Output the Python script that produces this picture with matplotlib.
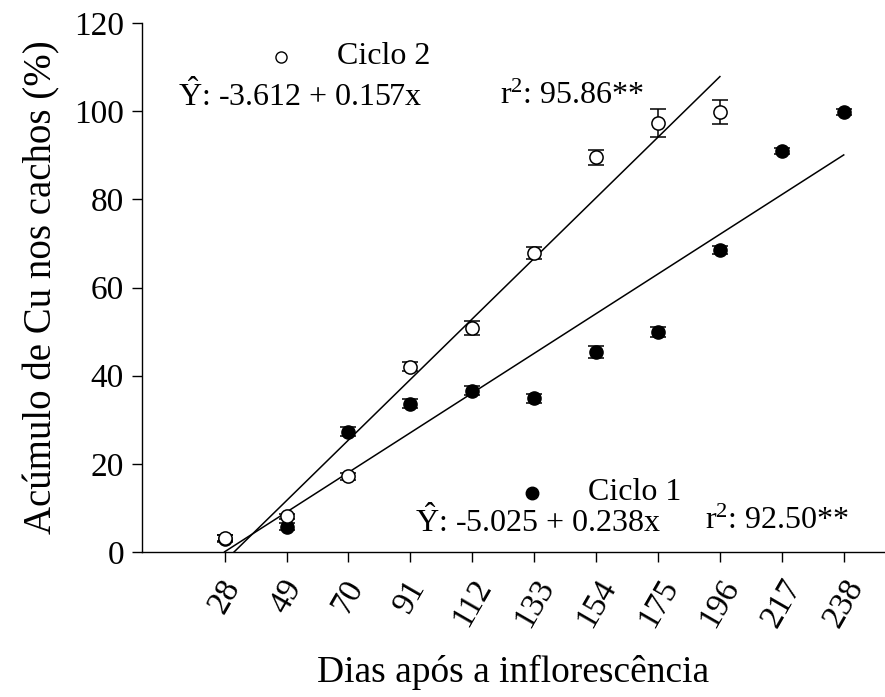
import numpy as np
import matplotlib.pyplot as plt

plt.rcParams['font.family'] = ['Liberation Serif', 'DejaVu Serif']
plt.rcParams['mathtext.fontset'] = 'custom'
plt.rcParams['mathtext.rm'] = 'Liberation Serif'
plt.rcParams['mathtext.it'] = 'Liberation Serif:italic'

# days after flowering
dias = [28, 49, 70, 91, 112, 133, 154, 175, 196, 217, 238]

# Ciclo 1 (filled circles)
ciclo1 = [3.0, 5.7, 27.3, 33.6, 36.6, 34.9, 45.4, 49.9, 68.5, 90.9, 99.9]
ciclo1_err = [0.8, 0.8, 1.0, 1.0, 1.0, 1.0, 1.3, 1.2, 1.0, 0.7, 0.7]

# Ciclo 2 (open circles), sampled up to 196 days
dias2 = [28, 49, 70, 91, 112, 133, 154, 175, 196]
ciclo2 = [3.2, 8.1, 17.2, 42.0, 50.9, 67.9, 89.5, 97.3, 99.8]
ciclo2_err = [0.6, 0.6, 0.8, 1.0, 1.6, 1.4, 1.8, 3.1, 2.8]

eq2 = r'$\hat{\mathrm{Y}}$: -3.612 + 0.157x'
r2_2 = r'r$^2$: 95.86**'
eq1 = r'$\hat{\mathrm{Y}}$: -5.025 + 0.238x'
r2_1 = r'r$^2$: 92.50**'

fig = plt.figure(figsize=(8.85, 6.97), dpi=100)
ax = fig.add_axes([0.1605, 0.208, 0.8395, 0.759])

# linear fits
for x, y in [(dias, ciclo1), (dias2, ciclo2)]:
    b, a = np.polyfit(x, y, 1)
    xs = np.array([x[0], x[-1]])
    ax.plot(xs, a + b * xs, color='black', lw=1.1, zorder=1)

ax.errorbar(dias, ciclo1, yerr=ciclo1_err, fmt='o', color='black', mfc='black',
            mec='black', ms=9.5, capsize=6, elinewidth=1.1, capthick=1.1, zorder=2)
ax.errorbar(dias2, ciclo2, yerr=ciclo2_err, fmt='o', color='black', mfc='white',
            mec='black', mew=1.1, ms=9.5, capsize=6, elinewidth=1.1, capthick=1.1,
            zorder=3)

ax.set_xlim(0, 252)
ax.set_ylim(0, 120)
ax.set_xticks(dias)
ax.set_xticklabels([str(d) for d in dias], rotation=60, ha='center', va='top')
ax.set_yticks(range(0, 121, 20))
ax.tick_params(axis='both', labelsize=24, direction='out', length=7, width=1)
ax.tick_params(axis='x', pad=9)
ax.tick_params(axis='y', pad=6)
for s in ['top', 'right']:
    ax.spines[s].set_visible(False)
ax.spines['left'].set_linewidth(1)
ax.spines['bottom'].set_linewidth(1)

ax.set_xlabel('Dias após a inflorescência', fontsize=27, labelpad=16)
ax.set_ylabel('Acúmulo de Cu nos cachos (%)', fontsize=28, labelpad=10)

# legend / equation annotations
ax.plot([0.187], [0.936], 'o', transform=ax.transAxes, ms=8, mfc='white',
        mec='black', mew=1, clip_on=False)
ax.text(0.262, 0.936, 'Ciclo 2', transform=ax.transAxes, fontsize=23, va='center')
ax.text(0.048, 0.862, eq2, transform=ax.transAxes, fontsize=23, va='center')
ax.text(0.482, 0.862, r2_2, transform=ax.transAxes, fontsize=23, va='center')

ax.plot([0.525], [0.112], 'o', transform=ax.transAxes, ms=9, mfc='black',
        mec='black', clip_on=False)
ax.text(0.600, 0.112, 'Ciclo 1', transform=ax.transAxes, fontsize=23, va='center')
ax.text(0.367, 0.057, eq1, transform=ax.transAxes, fontsize=23, va='center')
ax.text(0.758, 0.057, r2_1, transform=ax.transAxes, fontsize=23, va='center')

fig.savefig('out.png', dpi=100)
